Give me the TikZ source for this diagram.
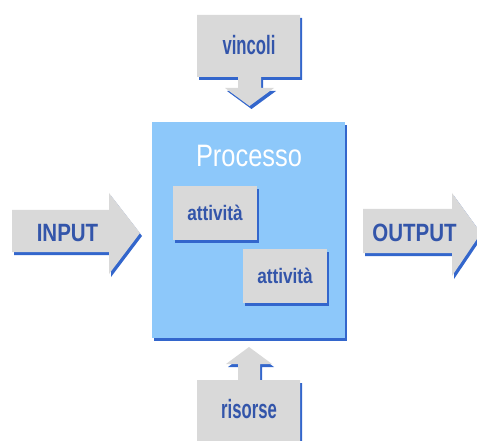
\documentclass[tikz,border=0pt]{standalone}
\usepackage{fontspec}
\setmainfont{Liberation Sans}
\newfontfamily\stretto[FakeStretch=0.82]{Liberation Sans}
\newfontfamily\strettissimo[FakeStretch=0.63]{Liberation Sans}
\definecolor{grigio}{HTML}{D9D9D9}
\definecolor{azzurro}{HTML}{8DC8FA}
\definecolor{ombra}{HTML}{3366CC}
\definecolor{blu}{HTML}{3355AA}

\begin{document}
\begin{tikzpicture}[x=1pt, y=-1pt,
            blocco/.style={fill=grigio, preaction={fill=ombra, transform canvas={xshift=2pt, yshift=-3pt}}},
            att/.style={rectangle, blocco, minimum width=84pt, minimum height=54pt, inner sep=0pt, text=blu, font=\stretto\bfseries\fontsize{21}{21}\selectfont},
            etichetta/.style={anchor=base, inner sep=0pt, text=blu, font=\stretto\bfseries\fontsize{25}{25}\selectfont},
            piccola/.style={etichetta, font=\strettissimo\bfseries\fontsize{26.5}{26.5}\selectfont}]

            \clip (0,0) rectangle (477,441);

            % Processo
            \node[rectangle, blocco, fill=azzurro, minimum width=193pt, minimum height=216pt] (proc) at (248.5,230) {};
            \node[anchor=base, inner sep=0pt, text=white, font=\stretto\fontsize{31}{31}\selectfont] (titolo) at (249,167) {Processo};
            \node[att] (att1) at (215,213) {attività};
            \node[att] (att2) at (285,275.5) {attività};

            % Frecce
            \fill[blocco] (12,210) -- (109,210) -- (109,193) -- (140,233) -- (109,274) -- (109,252) -- (12,252) -- cycle;
            \fill[blocco] (363,209) -- (452,209) -- (452,193) -- (481,233) -- (452,276) -- (452,253) -- (363,253) -- cycle;
            \fill[blocco] (197,15) -- (300,15) -- (300,77) -- (261,77) -- (261,88) -- (274,88) -- (249.5,106)
                -- (225,88) -- (238,88) -- (238,77) -- (197,77) -- cycle;
            \fill[blocco] (197,445) -- (197,380) -- (238,380) -- (238,364) -- (226,364) -- (249,347) -- (272,364)
                -- (260,364) -- (260,380) -- (300,380) -- (300,445) -- cycle;

            % Testi
            \node[etichetta] (input) at (67.5,241.5) {INPUT};
            \node[etichetta] (output) at (414.5,241.5) {OUTPUT};
            \node[piccola] (vincoli) at (249,55) {vincoli};
            \node[piccola] (risorse) at (249,418) {risorse};
    \end{tikzpicture}
\end{document}
